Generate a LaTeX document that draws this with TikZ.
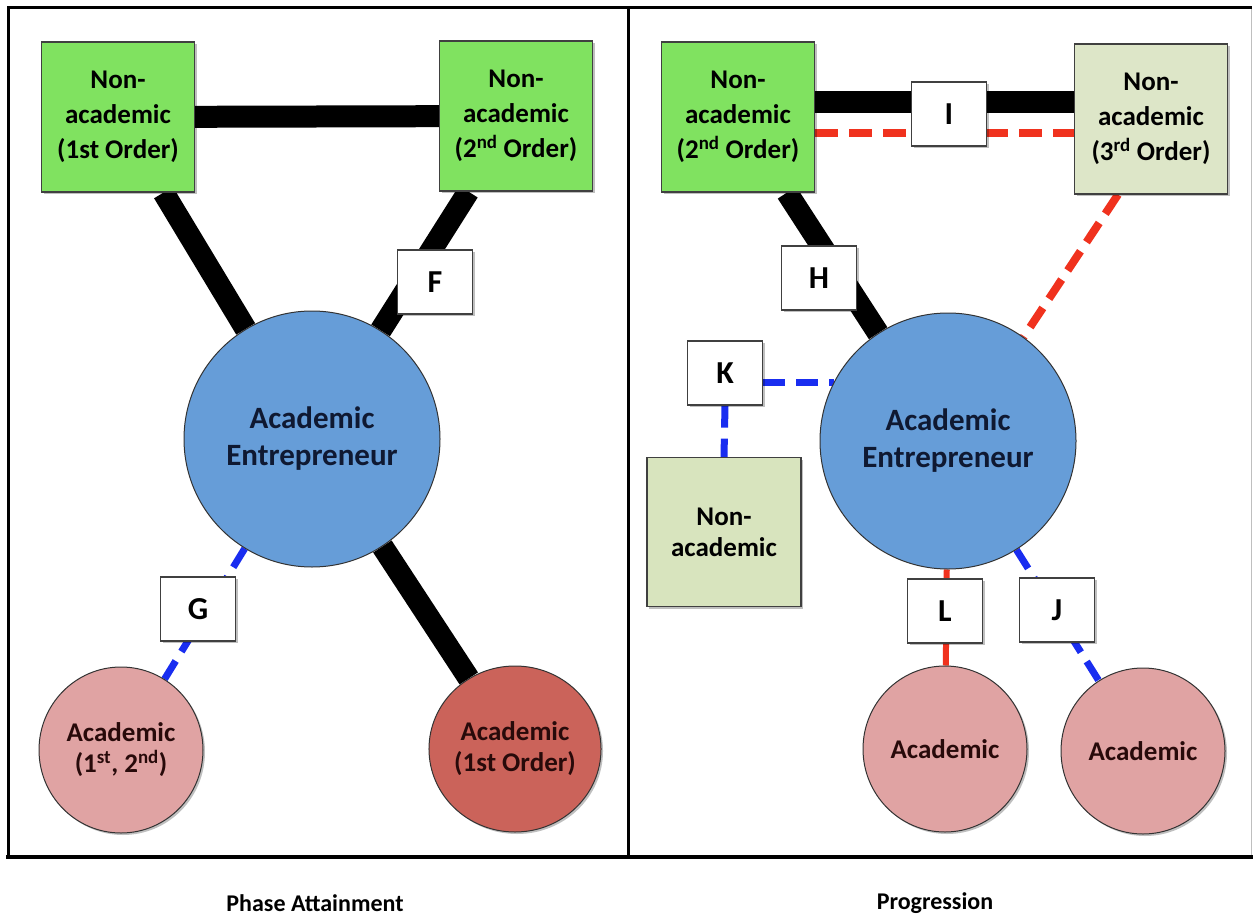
\documentclass[tikz,border=0pt]{standalone}
\usepackage{fontspec}
\setmainfont{Carlito}
\usetikzlibrary{shadows,backgrounds,shapes.geometric}
\definecolor{grn}{RGB}{128,226,96}
\definecolor{olv}{RGB}{216,228,190}
\definecolor{olvl}{RGB}{221,230,200}
\definecolor{aeblue}{RGB}{102,157,216}
\definecolor{pinkc}{RGB}{224,163,163}
\definecolor{dredc}{RGB}{203,99,90}
\definecolor{dashblue}{RGB}{25,45,240}
\definecolor{dashred}{RGB}{240,50,30}
\definecolor{navytxt}{RGB}{15,25,50}
\definecolor{redtxt}{RGB}{40,10,10}
\begin{document}
\begin{tikzpicture}[x=1pt,y=-1pt,
  shad/.style={drop shadow={shadow xshift=2pt,shadow yshift=-2pt,opacity=0.25,fill=black}},
  boxnode/.style={draw=black!75, line width=1.2pt, minimum width=153pt, minimum height=150pt,
    align=center, inner sep=0pt, font=\fontsize{27}{35}\selectfont\bfseries, shad},
  grnbox/.style={boxnode, fill=grn},
  olvbox/.style={boxnode, fill=olv},
  lbl/.style={draw=black!75, line width=1.2pt, fill=white, minimum width=75pt, minimum height=64pt,
    inner sep=0pt, font=\fontsize{32}{36}\selectfont\bfseries, shad},
  aenode/.style={circle, draw=black!80, line width=1pt, fill=aeblue, minimum size=256pt, inner sep=0pt,
    align=center, text=navytxt, font=\fontsize{31}{37}\selectfont\bfseries},
  acnode/.style={ellipse, draw=black!80, line width=1pt, minimum width=164pt, minimum height=166pt, inner sep=0pt,
    align=center, text=redtxt, font=\fontsize{27}{31}\selectfont\bfseries, shad},
  thick link/.style={line width=22pt, black},
  bluedash/.style={line width=7pt, dashblue, dash pattern=on 22pt off 11pt},
  reddash/.style={line width=8pt, dashred, dash pattern=on 23pt off 11pt},
  redthin/.style={line width=6pt, dashred},
  caption/.style={font=\fontsize{24}{28}\selectfont\bfseries}
]
\useasboundingbox (0,0) rectangle (1253,920);

% ---------- left panel nodes ----------
\node[grnbox] (na1) at (118,117) {Non-\\academic\\(1st Order)};
\node[grnbox] (na2) at (516,116) {Non-\\academic\\(2\textsuperscript{nd} Order)};
\node[aenode] (ae) at (312,439) {Academic\\Entrepreneur};
\node[acnode, fill=pinkc] (acl) at (121,750) {Academic\\(1\textsuperscript{st}, 2\textsuperscript{nd})};
\node[acnode, fill=dredc] (acr) at (515,749) {Academic\\(1st Order)};

% ---------- right panel nodes ----------
\node[grnbox] (nb2) at (738,117) {Non-\\academic\\(2\textsuperscript{nd} Order)};
\node[olvbox, fill=olvl] (nb3) at (1151,119) {Non-\\academic\\(3\textsuperscript{rd} Order)};
\node[aenode] (be) at (948,441) {Academic\\Entrepreneur};
\node[olvbox, minimum width=154pt, minimum height=149pt, font=\fontsize{27}{31}\selectfont\bfseries] (nbn) at (724,532) {Non-\\academic};
\node[acnode, fill=pinkc] (bc1) at (945,749) {Academic};
\node[acnode, fill=pinkc] (bc2) at (1143,751) {Academic};

% ---------- labels ----------
\node[lbl] (F) at (435,282) {F};
\node[lbl] (G) at (198,609) {G};
\node[lbl] (I) at (949,114) {I};
\node[lbl] (H) at (819,278) {H};
\node[lbl] (K) at (725,373) {K};
\node[lbl] (L) at (945,611) {L};
\node[lbl] (J) at (1057,610) {J};

% ---------- connectors (behind nodes) ----------
\begin{pgfonlayer}{background}
\fill[white] (0,0) rectangle (1253,920);
\draw[thick link] (na1) -- (na2);
\draw[thick link] (na1) -- (ae);
\draw[thick link] (na2) -- (ae);
\draw[thick link] (ae) -- (acr);
\draw[bluedash] (ae) -- (acl);
\draw[thick link] ([yshift=15pt]nb2.east) -- ([yshift=17pt]nb3.west);
\draw[reddash] ([yshift=-16pt]nb2.east) -- ([yshift=-14pt]nb3.west);
\draw[thick link] (nb2) -- (be);
\draw[reddash] ([xshift=-33pt]nb3.south) -- (be.54);
\draw[redthin] (be) -- (bc1);
\draw[bluedash] (be) -- (bc2);
\draw[bluedash] (K.east |- be.153) -- (be.153);
\draw[bluedash] (K.south) -- (nbn.north);
\end{pgfonlayer}

% ---------- frame ----------
\draw[black!25, line width=1pt] (1251,8) -- (1251,857);
\draw[line width=3pt, line cap=rect] (8,8) -- (1250,8);
\draw[line width=3pt] (8,8) -- (8,857);
\draw[line width=3pt] (628,8) -- (628,857);
\draw[line width=4.5pt] (6,857) -- (1253,857);

% ---------- captions ----------
\node[caption] (cap1) at (315,903) {Phase Attainment};
\node[caption] (cap2) at (935,903) {Progression};
\end{tikzpicture}
\end{document}
